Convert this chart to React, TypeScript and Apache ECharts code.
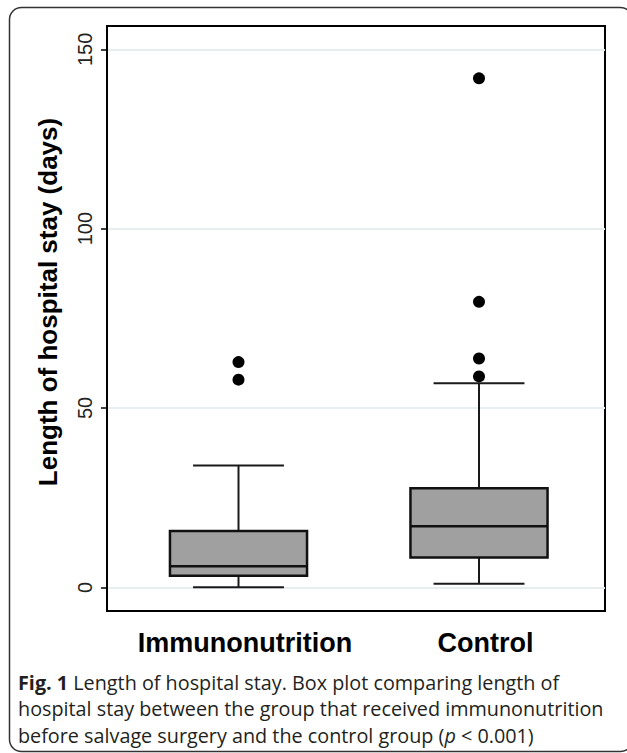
import React, { useEffect, useRef } from "react";
import * as echarts from "echarts";

const categories = ["Immunonutrition", "Control"];
// [min whisker, Q1, median, Q3, max whisker]
const immunoStats = [0, 3.2, 5.9, 15.7, 34];
const controlStats = [1, 8.3, 17, 27.6, 56.9];
const immunoOutliers = [62.8, 57.9];
const controlOutliers = [141.9, 79.6, 63.8, 58.8];
const yTicks = [0, 50, 100, 150];
const yTitle = "Length of hospital stay (days)";
const captionLines = [
  "{b|Fig. 1} Length of hospital stay. Box plot comparing length of",
  "hospital stay between the group that received immunonutrition",
  "before salvage surgery and the control group ({i|p} < 0.001)",
];

const Y_MIN = -6.6;
const Y_MAX = 156.5;

export default function App() {
  const ref = useRef<HTMLDivElement>(null);
  useEffect(() => {
    if (!ref.current) return;
    const chart = echarts.init(ref.current, null, { renderer: "svg" });
    const boxData = [immunoStats, controlStats].map((s, i) => [i, ...s]);
    const outlierData = [
      ...immunoOutliers.map((v) => [0, v]),
      ...controlOutliers.map((v) => [1, v]),
    ];
    const font = "Liberation Sans, Arial, Helvetica, sans-serif";
    const capFont = "Open Sans, Noto Sans, sans-serif";
    const capSize = 19.8;
    chart.setOption({
      animation: false,
      backgroundColor: "#fff",
      grid: [
        { left: 107, top: 26, right: 22, bottom: 142, show: true, borderColor: "#000", borderWidth: 2, backgroundColor: "transparent" },
        { left: 118.25, top: 26, right: 27.75, bottom: 142 },
      ],
      xAxis: [
        { type: "category", gridIndex: 0, data: categories, show: false },
        {
          type: "category",
          gridIndex: 1,
          data: categories,
          axisLine: { show: false },
          axisTick: { show: false },
          splitLine: { show: false },
          axisLabel: {
            interval: 0,
            hideOverlap: false,
            fontSize: 27,
            fontWeight: "bold",
            fontFamily: font,
            color: "#000",
            margin: 18,
            padding: [0, 0, 0, 13],
          },
        },
      ],
      yAxis: [
        {
          type: "value",
          gridIndex: 0,
          min: Y_MIN,
          max: Y_MAX,
          splitNumber: 3,
          axisLine: { show: true, lineStyle: { color: "#000", width: 2 } },
          axisTick: { show: true, length: 6, customValues: yTicks, lineStyle: { color: "#000", width: 1.5 } },
          axisLabel: {
            customValues: yTicks,
            rotate: 90,
            fontSize: 20,
            fontFamily: font,
            color: "#222",
            margin: 12,
          },
          splitLine: { show: true, lineStyle: { color: "#e6eef0", width: 2 } },
        },
        { type: "value", gridIndex: 1, min: Y_MIN, max: Y_MAX, show: false, splitLine: { show: false } },
      ],
      graphic: [
        {
          type: "rect",
          shape: { x: 9.5, y: 7.5, width: 623, height: 744, r: 12 },
          style: { fill: "none", stroke: "#333", lineWidth: 1.5 },
          silent: true,
        },
        {
          type: "text",
          x: 48,
          y: 302,
          rotation: Math.PI / 2,
          style: {
            text: yTitle,
            fontSize: 26,
            fontWeight: "bold",
            fontFamily: font,
            fill: "#000",
            textAlign: "center",
            textVerticalAlign: "middle",
            align: "center",
            verticalAlign: "middle",
          },
        },
        ...captionLines.map((t, i) => ({
          type: "text",
          x: 18,
          y: 682 + i * 26.5,
          style: {
            text: t,
            fontSize: capSize,
            fontFamily: capFont,
            fill: "#231f20",
            textVerticalAlign: "middle",
            verticalAlign: "middle",
            rich: {
              b: { fontSize: capSize, fontFamily: capFont, fontWeight: "bold", fill: "#231f20" },
              i: { fontSize: capSize, fontFamily: capFont, fontStyle: "italic", fill: "#231f20" },
            },
          },
        })),
      ],
      series: [
        {
          type: "custom",
          xAxisIndex: 1,
          yAxisIndex: 1,
          data: boxData,
          encode: { x: 0, y: [1, 2, 3, 4, 5] },
          renderItem: (params: any, api: any) => {
            const xv = api.value(0);
            const lo = api.coord([xv, api.value(1)]);
            const q1 = api.coord([xv, api.value(2)]);
            const med = api.coord([xv, api.value(3)]);
            const q3 = api.coord([xv, api.value(4)]);
            const hi = api.coord([xv, api.value(5)]);
            const band = api.size([1, 0])[0];
            const bw = band * 0.57;
            const cw = band * 0.378;
            const cx = lo[0];
            const wStyle = { stroke: "#1a1a1a", lineWidth: 2 };
            return {
              type: "group",
              children: [
                { type: "line", shape: { x1: cx, y1: hi[1], x2: cx, y2: q3[1] }, style: wStyle },
                { type: "line", shape: { x1: cx, y1: q1[1], x2: cx, y2: lo[1] }, style: wStyle },
                { type: "line", shape: { x1: cx - cw / 2, y1: hi[1], x2: cx + cw / 2, y2: hi[1] }, style: wStyle },
                { type: "line", shape: { x1: cx - cw / 2, y1: lo[1], x2: cx + cw / 2, y2: lo[1] }, style: wStyle },
                {
                  type: "rect",
                  shape: { x: cx - bw / 2, y: q3[1], width: bw, height: q1[1] - q3[1] },
                  style: { fill: "#a0a0a0", stroke: "#111", lineWidth: 2.5 },
                },
                { type: "line", shape: { x1: cx - bw / 2, y1: med[1], x2: cx + bw / 2, y2: med[1] }, style: { stroke: "#111", lineWidth: 2.5 } },
              ],
            };
          },
        },
        {
          type: "scatter",
          xAxisIndex: 1,
          yAxisIndex: 1,
          data: outlierData,
          symbol: "circle",
          symbolSize: 12,
          itemStyle: { color: "#000", opacity: 1 },
        },
      ],
    });
    return () => chart.dispose();
  }, []);
  return (
    <div
      ref={ref}
      style={{ position: "absolute", left: 0, top: 0, width: 627, height: 753 }}
    />
  );
}
